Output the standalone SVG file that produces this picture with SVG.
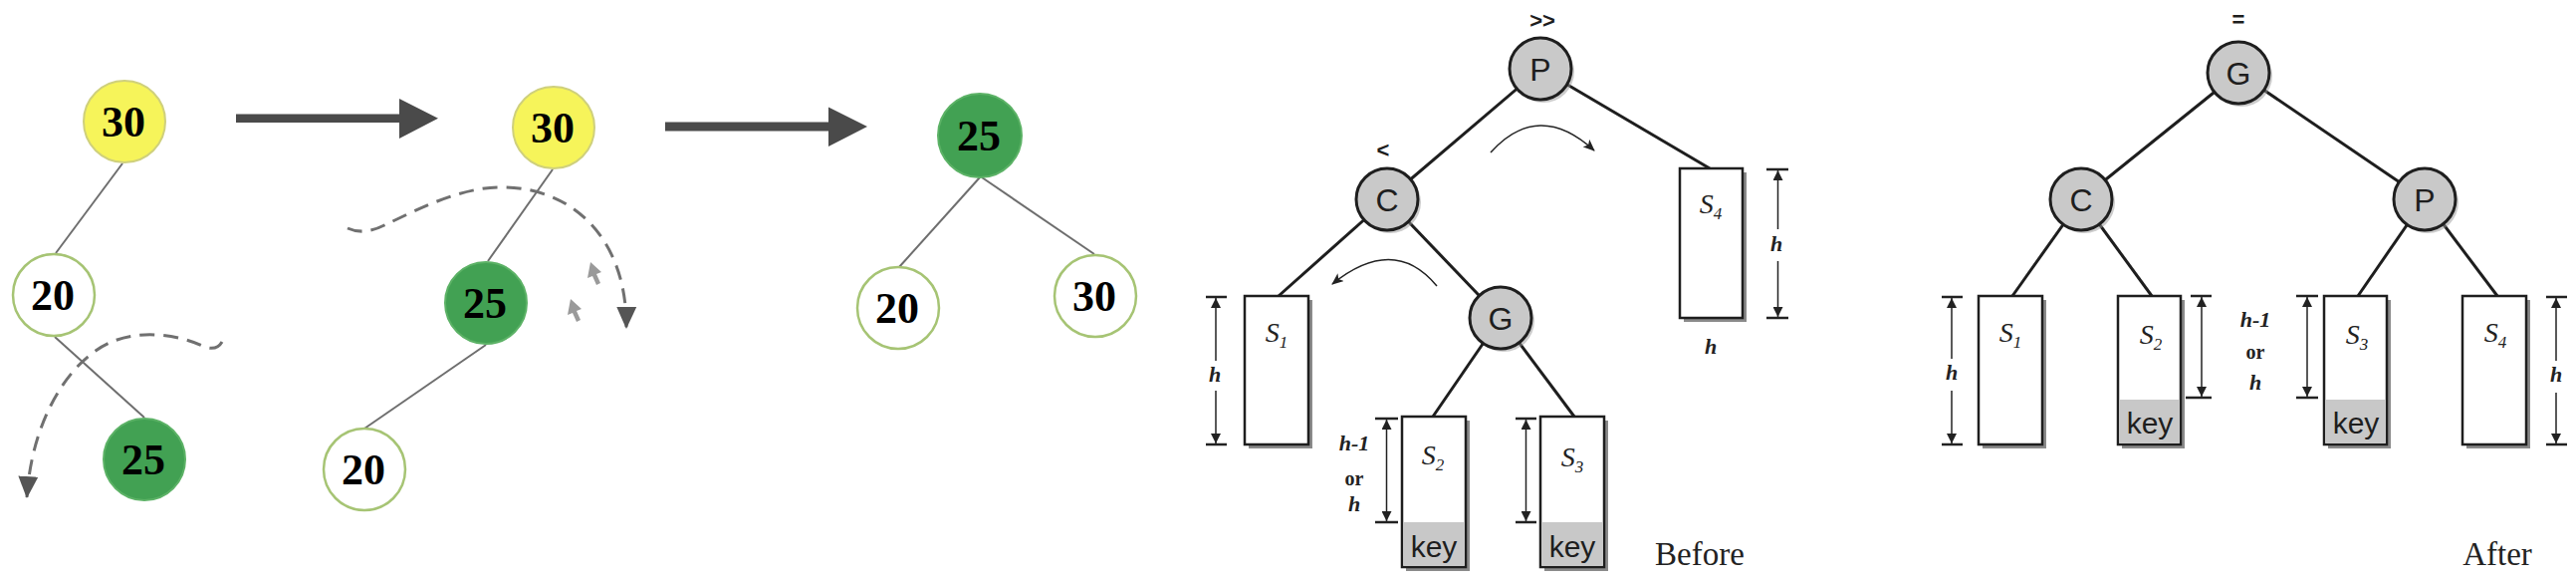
<svg xmlns="http://www.w3.org/2000/svg" width="2587" height="585" viewBox="0 0 2587 585">
<style>
.edge{stroke:#6e6e6e;stroke-width:2;fill:none}
.rbedge{stroke:#1e1e1e;stroke-width:3;fill:none}
.num{font-family:"Liberation Serif","Times New Roman",serif;font-weight:bold;font-size:44px;fill:#000;text-anchor:middle}
.yel{fill:#f6f45a;stroke:#cfd07c;stroke-width:2}
.grn{fill:#42a153;stroke:#5cb266;stroke-width:2}
.wht{fill:#fff;stroke:#a6c474;stroke-width:2.5}
.rbn{fill:#c9c9c9;stroke:#1e1e1e;stroke-width:3}
.rbshadow{fill:#9a9a9a;opacity:.5}
.lbl{font-family:"Liberation Sans",Arial,sans-serif;font-size:32px;fill:#1e1e1e;text-anchor:middle}
.mark{font-family:"Liberation Sans",Arial,sans-serif;font-size:22px;font-weight:bold;fill:#1e1e1e;text-anchor:middle}
.box{fill:#fff;stroke:#1e1e1e;stroke-width:2.5}
.shadow{fill:#8a8a8a}
.keyfill{fill:#c8c8c8}
.sub{font-family:"Liberation Serif","Times New Roman",serif;font-style:italic;font-size:28px;fill:#222;text-anchor:middle}
.key{font-family:"Liberation Sans",Arial,sans-serif;font-size:30px;fill:#1e1e1e;text-anchor:middle}
.hl{font-family:"Liberation Serif","Times New Roman",serif;font-style:italic;font-weight:bold;font-size:22px;fill:#222;text-anchor:middle}
.orl{font-family:"Liberation Serif","Times New Roman",serif;font-weight:bold;font-size:20px;fill:#222;text-anchor:middle}
.cap{font-family:"Liberation Serif","Times New Roman",serif;font-size:33px;fill:#222;text-anchor:middle}
.dim{stroke:#222;stroke-width:1.5;fill:none}
.bar{stroke:#222;stroke-width:2.5}
.dash{stroke:#707070;stroke-width:3;fill:none;stroke-dasharray:15 9}
.thin{stroke:#222;stroke-width:1.5;fill:none}
.bigarrow{fill:#4a4a4a}
.cursor{fill:#9a9a9a}
</style>
<defs>
<marker id="dashHead" markerUnits="userSpaceOnUse" markerWidth="22" markerHeight="22" viewBox="0 0 22 22" refX="21" refY="11" orient="auto">
<path d="M0,1 L22,11 L0,21 Z" fill="#555"/>
</marker>
<marker id="thinHead" markerUnits="userSpaceOnUse" markerWidth="12" markerHeight="10" viewBox="0 0 12 10" refX="11" refY="5" orient="auto">
<path d="M0,0 L12,5 L0,10 L3,5 Z" fill="#222"/>
</marker>
<marker id="dimHead" markerUnits="userSpaceOnUse" markerWidth="10" markerHeight="10" viewBox="0 0 10 10" refX="10" refY="5" orient="auto-start-reverse">
<path d="M0,0 L10,5 L0,10 Z" fill="#222"/>
</marker>
</defs>
<rect width="2587" height="585" fill="#fff"/>

<g id="connectors">
  <line class="edge" x1="123" y1="164" x2="56" y2="254"/>
  <line class="edge" x1="55" y1="338" x2="145" y2="419"/>
  <line class="edge" x1="555" y1="170" x2="490" y2="262"/>
  <line class="edge" x1="488" y1="346" x2="366" y2="430"/>
  <line class="edge" x1="984" y1="178" x2="903" y2="268"/>
  <line class="edge" x1="986" y1="178" x2="1099" y2="255"/>
  <path class="bigarrow" d="M237 114.5 H401 V99 L440 118.7 L401 139 V123 H237 Z"/>
  <path class="bigarrow" d="M668 122.5 H832 V107.5 L871 127 L832 147 V131.5 H668 Z"/>
  <path class="dash" d="M223 343 C219 350 212 351 203 347 C180 336 140 330 110 344 C70 362 32 420 27 499" marker-end="url(#dashHead)"/>
  <path class="dash" d="M349 229 C360 234 372 233 386 226 C420 210 460 189 500 188 C575 186 630 240 629 329" marker-end="url(#dashHead)"/>
  <path class="cursor" d="M593 263 L590 279 L595 277 L599 286 L603 284 L599 275 L604 273 Z"/>
  <path class="cursor" d="M573 300 L570 316 L575 314 L579 323 L583 321 L579 312 L584 310 Z"/>
  <line class="rbedge" x1="1547" y1="69" x2="1393" y2="200"/>
  <line class="rbedge" x1="1547" y1="69" x2="1717" y2="169"/>
  <line class="rbedge" x1="1393" y1="200" x2="1284" y2="297"/>
  <line class="rbedge" x1="1393" y1="200" x2="1507" y2="319"/>
  <line class="rbedge" x1="1507" y1="319" x2="1439" y2="418"/>
  <line class="rbedge" x1="1507" y1="319" x2="1581" y2="418"/>
  <path class="thin" d="M1497 153 Q1545 100 1601 151" marker-end="url(#thinHead)"/>
  <path class="thin" d="M1443 287 Q1400 235 1338 285" marker-end="url(#thinHead)"/>
  <line class="rbedge" x1="2248" y1="73" x2="2090" y2="200"/>
  <line class="rbedge" x1="2248" y1="73" x2="2435" y2="200"/>
  <line class="rbedge" x1="2090" y1="200" x2="2021" y2="297"/>
  <line class="rbedge" x1="2090" y1="200" x2="2161" y2="297"/>
  <line class="rbedge" x1="2435" y1="200" x2="2368" y2="297"/>
  <line class="rbedge" x1="2435" y1="200" x2="2508" y2="297"/>
</g>

<g id="n30a"><circle class="yel" cx="125" cy="122" r="41"/><text class="num" x="124" y="137">30</text></g>
<g id="n20a"><circle class="wht" cx="54" cy="296" r="41"/><text class="num" x="53" y="311">20</text></g>
<g id="n25a"><circle class="grn" cx="145" cy="461" r="41"/><text class="num" x="144" y="476">25</text></g>

<g id="n30b"><circle class="yel" cx="556" cy="128" r="41"/><text class="num" x="555" y="143">30</text></g>
<g id="n25b"><circle class="grn" cx="488" cy="304" r="41"/><text class="num" x="487" y="319">25</text></g>
<g id="n20b"><circle class="wht" cx="366" cy="471" r="41"/><text class="num" x="365" y="486">20</text></g>

<g id="n25c"><circle class="grn" cx="984" cy="136" r="42"/><text class="num" x="983" y="151">25</text></g>
<g id="n20c"><circle class="wht" cx="902" cy="309" r="41"/><text class="num" x="901" y="324">20</text></g>
<g id="n30c"><circle class="wht" cx="1100" cy="297" r="41"/><text class="num" x="1099" y="312">30</text></g>

<g id="bP">
  <circle class="rbshadow" cx="1550" cy="72" r="31"/>
  <circle class="rbn" cx="1547" cy="69" r="31"/>
  <text class="lbl" x="1547" y="81">P</text>
  <text class="mark" x="1549" y="28">&gt;&gt;</text>
</g>
<g id="bC">
  <circle class="rbshadow" cx="1396" cy="203" r="31"/>
  <circle class="rbn" cx="1393" cy="200" r="31"/>
  <text class="lbl" x="1393" y="212">C</text>
  <text class="mark" x="1389" y="158">&lt;</text>
</g>
<g id="bG">
  <circle class="rbshadow" cx="1510" cy="322" r="31"/>
  <circle class="rbn" cx="1507" cy="319" r="31"/>
  <text class="lbl" x="1507" y="331">G</text>
</g>
<g id="bS1">
  <rect class="shadow" x="1254" y="301" width="64" height="149"/>
  <rect class="box" x="1250" y="297" width="64" height="149"/>
  <text class="sub" x="1282" y="343">S<tspan font-size="17" dy="6">1</tspan></text>
  <line class="dim" x1="1221" y1="299" x2="1221" y2="362" marker-start="url(#dimHead)"/>
  <line class="dim" x1="1221" y1="392" x2="1221" y2="445" marker-end="url(#dimHead)"/>
  <line class="bar" x1="1211" y1="298" x2="1232" y2="298"/>
  <line class="bar" x1="1211" y1="446" x2="1232" y2="446"/>
  <text class="hl" x="1220" y="383">h</text>
</g>
<g id="bS2">
  <rect class="shadow" x="1412" y="422" width="64" height="151"/>
  <rect class="box" x="1408" y="418" width="64" height="151"/>
  <rect class="keyfill" x="1409.25" y="524" width="61.5" height="43.75"/>
  <text class="sub" x="1439" y="466">S<tspan font-size="17" dy="6">2</tspan></text>
  <text class="key" x="1440" y="559">key</text>
  <line class="dim" x1="1392.5" y1="421" x2="1392.5" y2="523" marker-start="url(#dimHead)" marker-end="url(#dimHead)"/>
  <line class="bar" x1="1381" y1="420" x2="1404" y2="420"/>
  <line class="bar" x1="1381" y1="524" x2="1404" y2="524"/>
  <text class="hl" x="1360" y="452">h-1</text>
  <text class="orl" x="1360" y="487">or</text>
  <text class="hl" x="1360" y="513">h</text>
</g>
<g id="bS3">
  <rect class="shadow" x="1551" y="422" width="64" height="151"/>
  <rect class="box" x="1547" y="418" width="64" height="151"/>
  <rect class="keyfill" x="1548.25" y="524" width="61.5" height="43.75"/>
  <text class="sub" x="1579" y="468">S<tspan font-size="17" dy="6">3</tspan></text>
  <text class="key" x="1579" y="559">key</text>
  <line class="dim" x1="1532.5" y1="421" x2="1532.5" y2="523" marker-start="url(#dimHead)" marker-end="url(#dimHead)"/>
  <line class="bar" x1="1522" y1="420" x2="1543" y2="420"/>
  <line class="bar" x1="1522" y1="524" x2="1543" y2="524"/>
</g>
<g id="bS4">
  <rect class="shadow" x="1691" y="173" width="63" height="150"/>
  <rect class="box" x="1687" y="169" width="63" height="150"/>
  <text class="sub" x="1718" y="214">S<tspan font-size="17" dy="6">4</tspan></text>
  <line class="dim" x1="1785.5" y1="171" x2="1785.5" y2="230" marker-start="url(#dimHead)"/>
  <line class="dim" x1="1785.5" y1="262" x2="1785.5" y2="318" marker-end="url(#dimHead)"/>
  <line class="bar" x1="1774" y1="170" x2="1796" y2="170"/>
  <line class="bar" x1="1774" y1="319" x2="1796" y2="319"/>
  <text class="hl" x="1784" y="252">h</text>
  <text class="hl" x="1718" y="355">h</text>
</g>
<text class="cap" x="1707" y="567">Before</text>

<g id="aG">
  <circle class="rbshadow" cx="2251" cy="76" r="31"/>
  <circle class="rbn" cx="2248" cy="73" r="31"/>
  <text class="lbl" x="2248" y="85">G</text>
  <text class="mark" x="2248" y="27">=</text>
</g>
<g id="aC">
  <circle class="rbshadow" cx="2093" cy="203" r="31"/>
  <circle class="rbn" cx="2090" cy="200" r="31"/>
  <text class="lbl" x="2090" y="212">C</text>
</g>
<g id="aP">
  <circle class="rbshadow" cx="2438" cy="203" r="31"/>
  <circle class="rbn" cx="2435" cy="200" r="31"/>
  <text class="lbl" x="2435" y="212">P</text>
</g>
<g id="aS1">
  <rect class="shadow" x="1991" y="301" width="64" height="149"/>
  <rect class="box" x="1987" y="297" width="64" height="149"/>
  <text class="sub" x="2019" y="343">S<tspan font-size="17" dy="6">1</tspan></text>
  <line class="dim" x1="1960" y1="299" x2="1960" y2="360" marker-start="url(#dimHead)"/>
  <line class="dim" x1="1960" y1="392" x2="1960" y2="445" marker-end="url(#dimHead)"/>
  <line class="bar" x1="1950" y1="298" x2="1971" y2="298"/>
  <line class="bar" x1="1950" y1="446" x2="1971" y2="446"/>
  <text class="hl" x="1960" y="381">h</text>
</g>
<g id="aS2">
  <rect class="shadow" x="2131" y="301" width="63" height="149"/>
  <rect class="box" x="2127" y="297" width="63" height="149"/>
  <rect class="keyfill" x="2128.25" y="401" width="60.5" height="43.75"/>
  <text class="sub" x="2160" y="345">S<tspan font-size="17" dy="6">2</tspan></text>
  <text class="key" x="2159" y="435">key</text>
  <line class="dim" x1="2211" y1="298" x2="2211" y2="398" marker-start="url(#dimHead)" marker-end="url(#dimHead)"/>
  <line class="bar" x1="2200" y1="297" x2="2221" y2="297"/>
  <line class="bar" x1="2195" y1="399" x2="2221" y2="399"/>
</g>
<g id="aS3">
  <rect class="shadow" x="2338" y="301" width="63" height="149"/>
  <rect class="box" x="2334" y="297" width="63" height="149"/>
  <rect class="keyfill" x="2335.25" y="401" width="60.5" height="43.75"/>
  <text class="sub" x="2367" y="345">S<tspan font-size="17" dy="6">3</tspan></text>
  <text class="key" x="2366" y="435">key</text>
  <line class="dim" x1="2317" y1="298" x2="2317" y2="398" marker-start="url(#dimHead)" marker-end="url(#dimHead)"/>
  <line class="bar" x1="2306" y1="297" x2="2328" y2="297"/>
  <line class="bar" x1="2306" y1="399" x2="2328" y2="399"/>
  <text class="hl" x="2265" y="328">h-1</text>
  <text class="orl" x="2265" y="360">or</text>
  <text class="hl" x="2265" y="391">h</text>
</g>
<g id="aS4">
  <rect class="shadow" x="2477" y="301" width="64" height="149"/>
  <rect class="box" x="2473" y="297" width="64" height="149"/>
  <text class="sub" x="2506" y="343">S<tspan font-size="17" dy="6">4</tspan></text>
  <line class="dim" x1="2567" y1="299" x2="2567" y2="362" marker-start="url(#dimHead)"/>
  <line class="dim" x1="2567" y1="394" x2="2567" y2="445" marker-end="url(#dimHead)"/>
  <line class="bar" x1="2557" y1="298" x2="2578" y2="298"/>
  <line class="bar" x1="2557" y1="446" x2="2578" y2="446"/>
  <text class="hl" x="2567" y="383">h</text>
</g>
<text class="cap" x="2508" y="567">After</text>
</svg>
